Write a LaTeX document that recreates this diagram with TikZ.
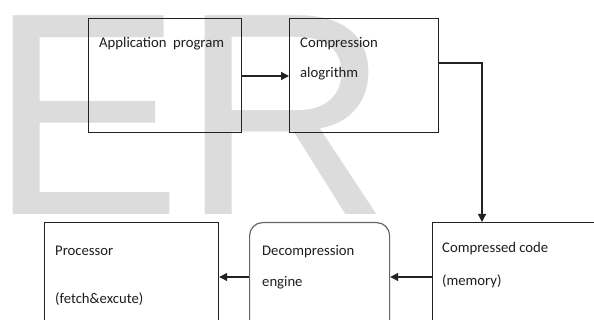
\documentclass[tikz,border=0pt]{standalone}
\usepackage{fontspec}
\setmainfont{Carlito}
\newfontfamily\wmfont{Liberation Sans}
\usetikzlibrary{arrows.meta}
\definecolor{wmgray}{HTML}{DCDCDC}
\definecolor{txt}{HTML}{1E1E1E}
\definecolor{edge}{HTML}{222222}
\tikzset{
  box/.style={draw=edge, line width=1.2pt, rectangle, anchor=north west, inner sep=0pt},
  rbox/.style={draw=black!60, line width=1.2pt, rectangle, rounded corners=13pt, anchor=north west, inner sep=0pt},
  lbl/.style={anchor=base west, inner sep=0pt, text=txt, font=\fontsize{14.7}{17}\selectfont},
  conn/.style={draw=edge, line width=1.2pt, -{Triangle[length=8pt,width=8pt]}},
}
\begin{document}
\begin{tikzpicture}[x=1pt,y=-1pt]
\useasboundingbox (0,0) rectangle (594,320);
\clip (0,0) rectangle (594,320);
\fill[white] (0,0) rectangle (594,320);
\node[anchor=base west, inner sep=0pt, text=wmgray, font=\fontsize{289}{289}\selectfont\wmfont] (wm) at (-11,215) {ER};
% boxes
\node[box, minimum width=153pt, minimum height=114pt] (app) at (88,18) {};
\node[box, minimum width=149pt, minimum height=114pt] (comp) at (289,18) {};
\node[box, minimum width=200pt, minimum height=140pt] (code) at (432,222) {};
\node[rbox, minimum width=140pt, minimum height=140pt] (dec) at (249,222) {};
\node[box, minimum width=174pt, minimum height=140pt] (proc) at (44,222) {};
% texts
\node[lbl] (t1) at (99,48) {Application\ \ program};
\node[lbl] (t2) at (300,48) {Compression};
\node[lbl] (t3) at (300,78) {alogrithm};
\node[lbl] (t4) at (442,253) {Compressed code};
\node[lbl] (t5) at (442,285) {(memory)};
\node[lbl] (t6) at (262,255) {Decompression};
\node[lbl] (t7) at (262,287) {engine};
\node[lbl] (t8) at (55,255) {Processor};
\node[lbl] (t9) at (55,303) {(fetch\&excute)};
% connectors
\coordinate (c1) at (482,63);
\draw[conn] (app.east |- 0,76) -- (comp.west |- 0,76);
\draw[conn] (comp.east |- c1) -- (c1) -- (c1 |- code.north);
\draw[conn] (code.west |- 0,277) -- (dec.east |- 0,277);
\draw[conn] (dec.west |- 0,277) -- (proc.east |- 0,277);
\end{tikzpicture}
\end{document}
